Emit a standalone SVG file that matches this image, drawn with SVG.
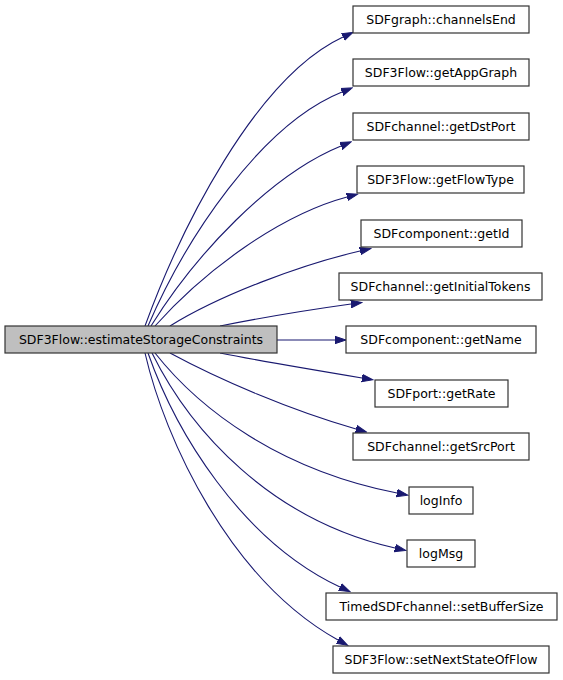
<svg xmlns="http://www.w3.org/2000/svg" width="563" height="680" viewBox="0 0 563 680">
<defs>
<style>
.n rect{fill:#ffffff;stroke:#333333;stroke-width:1.2}
.n.main rect{fill:#bfbfbf}
.n text{font-family:"DejaVu Sans",sans-serif;font-size:12.5px;fill:#000000;text-anchor:middle}
.e path{fill:none;stroke:#191970;stroke-width:1.1;marker-end:url(#ah)}
</style>
<marker id="ah" markerUnits="userSpaceOnUse" markerWidth="12" markerHeight="10" refX="0" refY="5" orient="auto" viewBox="0 0 12 10">
<polygon points="0,1.3 11,5 0,8.7" fill="#191970" stroke="#191970" stroke-width="1"/>
</marker>
</defs>
<rect width="563" height="680" fill="#ffffff"/>
<g class="e" id="edges">
<path d="M145,326 C180,230 255,78 343,37"/>
<path d="M148,326 C185,240 260,125 342,92"/>
<path d="M151,326 C195,255 270,175 341,146"/>
<path d="M155,326 C205,270 280,215 347,197"/>
<path d="M170,326 C220,295 300,265 360,251"/>
<path d="M220,326 C265,317 315,309 351,304"/>
<path d="M277,340 L335,340"/>
<path d="M220,353 C260,361 320,371 362,378"/>
<path d="M170,353 C220,380 290,410 356,429"/>
<path d="M155,353 C200,410 280,470 397,493"/>
<path d="M152,353 C190,430 270,520 395,548"/>
<path d="M148,353 C175,430 240,540 340,587"/>
<path d="M145,353 C165,440 230,580 338,640"/>
</g>
<g class="n main" id="node-main"><rect x="5" y="326" width="272" height="27"/><text x="141" y="344">SDF3Flow::estimateStorageConstraints</text></g>
<g class="n" id="node-channelsEnd"><rect x="353" y="6" width="176" height="27"/><text x="441" y="24">SDFgraph::channelsEnd</text></g>
<g class="n" id="node-getAppGraph"><rect x="353" y="59" width="176" height="27"/><text x="441" y="77">SDF3Flow::getAppGraph</text></g>
<g class="n" id="node-getDstPort"><rect x="353" y="113" width="176" height="27"/><text x="441" y="131">SDFchannel::getDstPort</text></g>
<g class="n" id="node-getFlowType"><rect x="357" y="166" width="167" height="27"/><text x="440.5" y="184">SDF3Flow::getFlowType</text></g>
<g class="n" id="node-getId"><rect x="361" y="220" width="161" height="27"/><text x="441.5" y="238">SDFcomponent::getId</text></g>
<g class="n" id="node-getInitialTokens"><rect x="339" y="273" width="203" height="27"/><text x="440.5" y="291">SDFchannel::getInitialTokens</text></g>
<g class="n" id="node-getName"><rect x="346" y="326" width="190" height="27"/><text x="441" y="344">SDFcomponent::getName</text></g>
<g class="n" id="node-getRate"><rect x="375" y="380" width="133" height="27"/><text x="441.5" y="398">SDFport::getRate</text></g>
<g class="n" id="node-getSrcPort"><rect x="353" y="433" width="176" height="27"/><text x="441" y="451">SDFchannel::getSrcPort</text></g>
<g class="n" id="node-logInfo"><rect x="409" y="487" width="64" height="27"/><text x="441" y="505">logInfo</text></g>
<g class="n" id="node-logMsg"><rect x="407" y="540" width="68" height="27"/><text x="441" y="558">logMsg</text></g>
<g class="n" id="node-setBufferSize"><rect x="326" y="593" width="231" height="27"/><text x="441.5" y="611">TimedSDFchannel::setBufferSize</text></g>
<g class="n" id="node-setNextStateOfFlow"><rect x="333" y="646" width="216" height="27"/><text x="441" y="664">SDF3Flow::setNextStateOfFlow</text></g>
</svg>
